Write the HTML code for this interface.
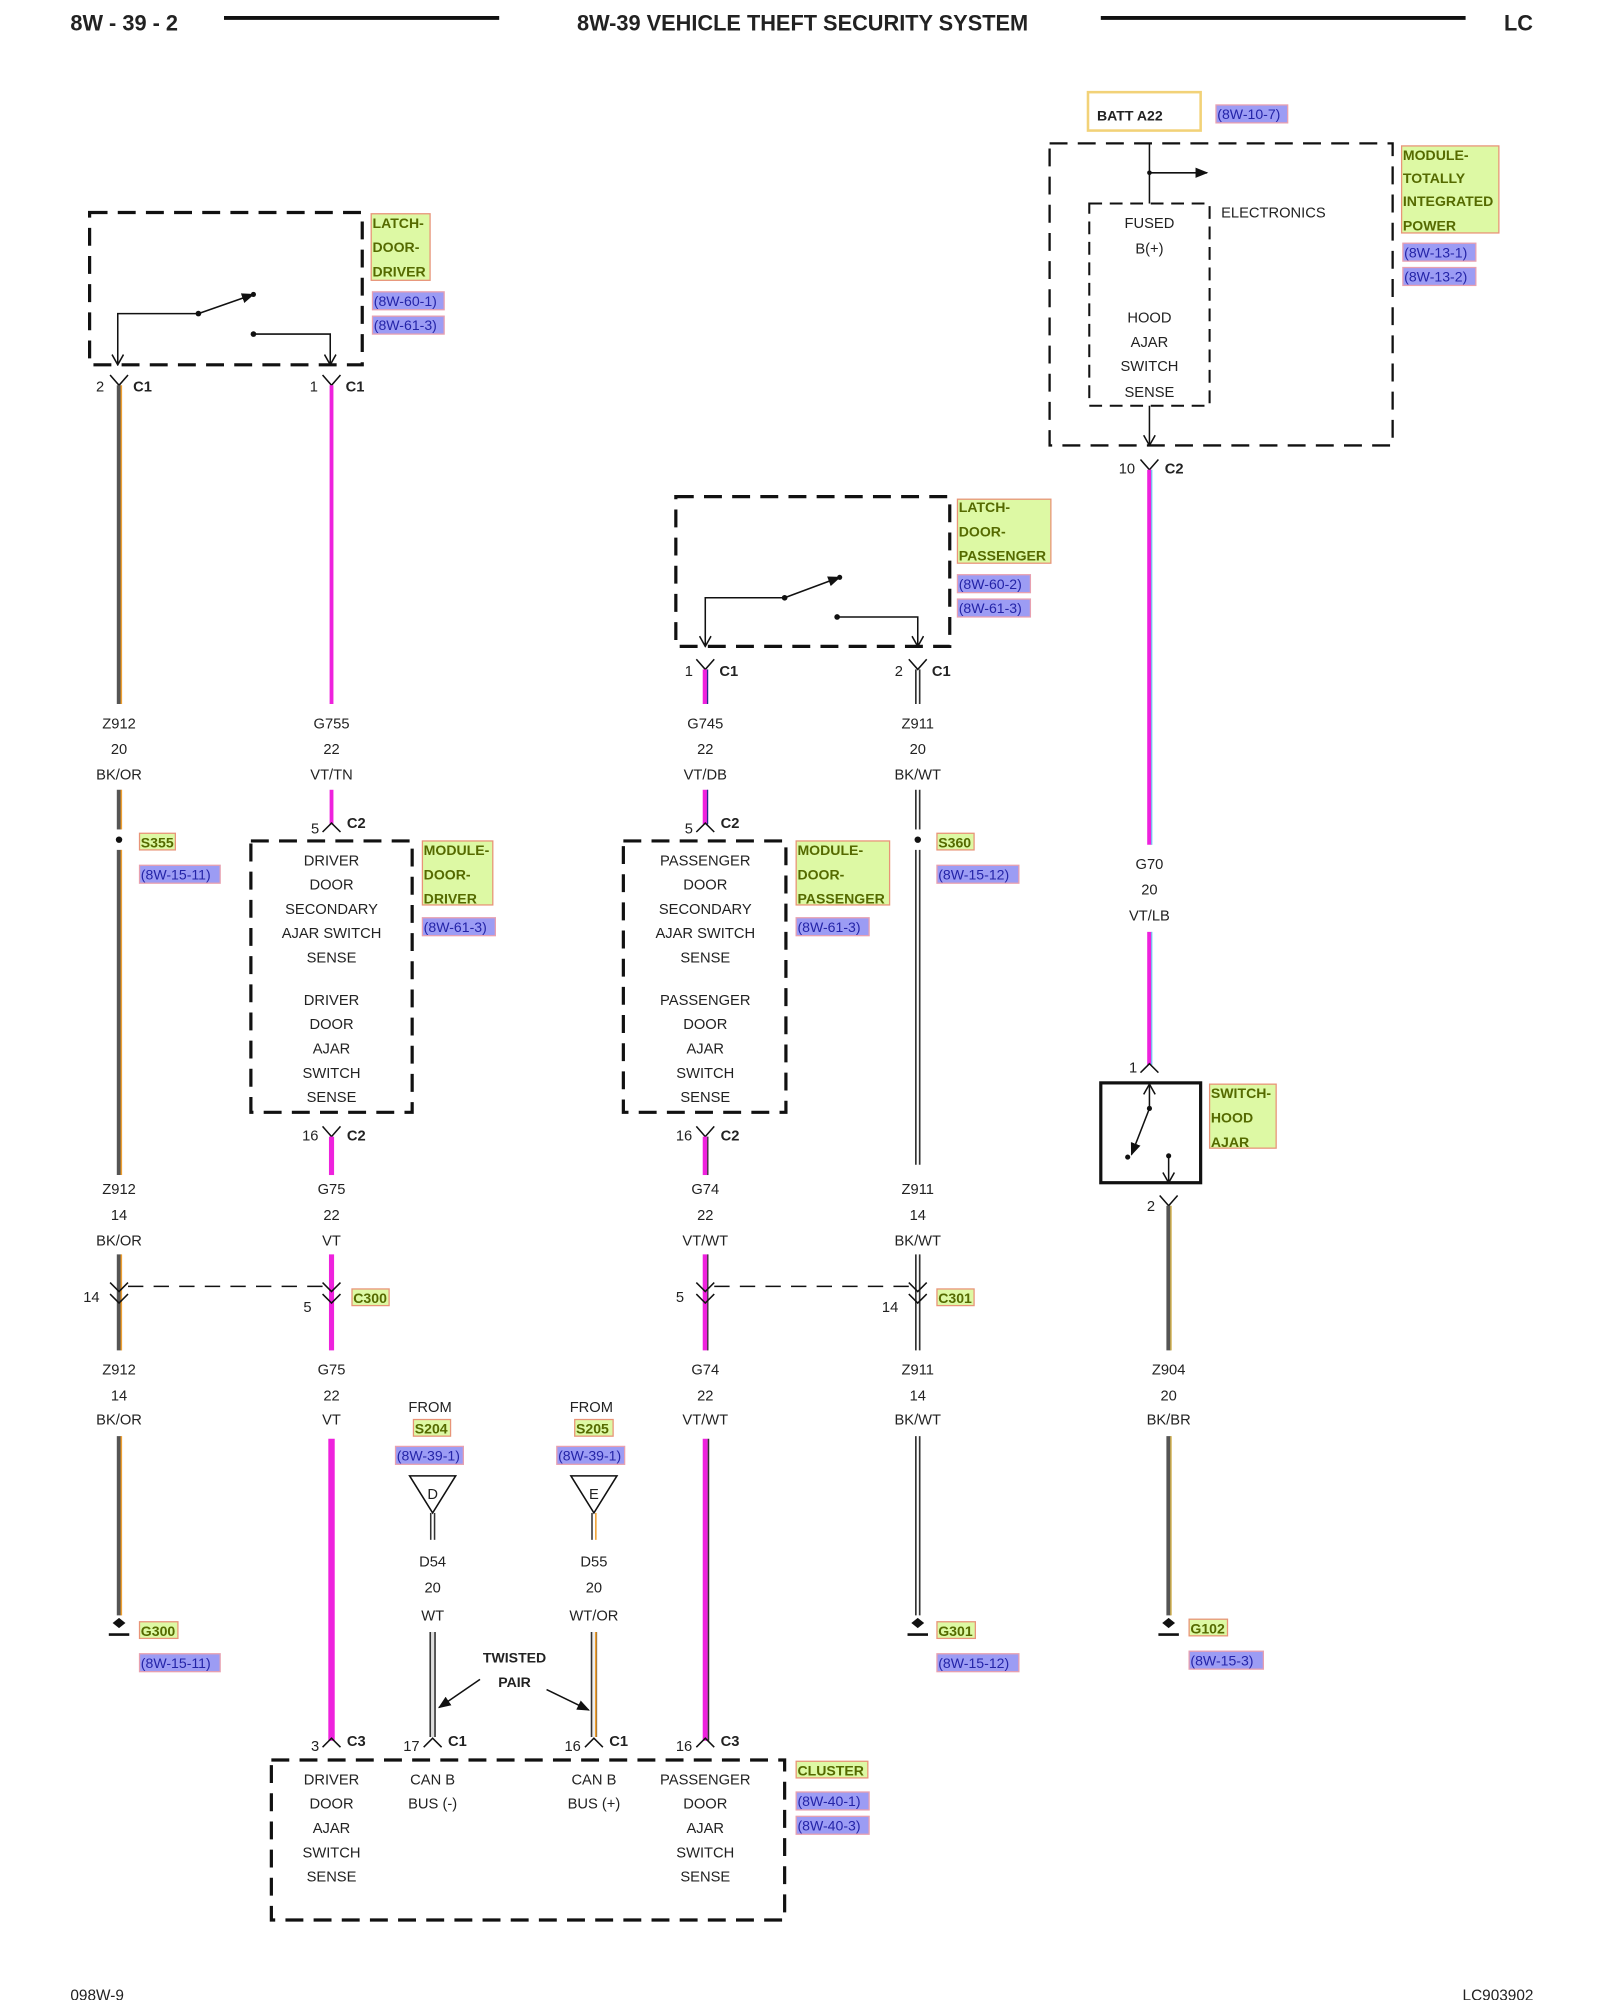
<!DOCTYPE html>
<html><head><meta charset="utf-8"><style>
html,body{margin:0;padding:0;background:#fff}
svg{display:block}
text{font-family:"Liberation Sans",sans-serif;font-size:11.5px;fill:#222}
.c{text-anchor:middle}
.b{font-weight:bold}
.g{font-weight:bold;fill:#556a00;font-size:11px}
.r{fill:#2424a8;font-size:11px}
.gb{fill:#ddf9a4;stroke:#e89478;stroke-width:1}
.rb{fill:#9c9cf4;stroke:#e8a0b0;stroke-width:1}
.d{fill:none;stroke:#111;stroke-width:2.5;stroke-dasharray:14 8}
.dt{fill:none;stroke:#111;stroke-width:1.6;stroke-dasharray:10 6}
.l{fill:none;stroke:#111;stroke-width:1.2}
</style></head><body>
<svg width="1600" height="2000" viewBox="0 0 1250 1562.5" xmlns="http://www.w3.org/2000/svg">
<defs>
<marker id="af" markerWidth="10" markerHeight="10" refX="9" refY="5" orient="auto" markerUnits="userSpaceOnUse"><path d="M0,1 L10,5 L0,9z" fill="#111"/></marker>
<marker id="ao" markerWidth="10" markerHeight="10" refX="9" refY="5" orient="auto" markerUnits="userSpaceOnUse"><path d="M1,0.5 L9,5 L1,9.5" fill="none" stroke="#111" stroke-width="1.2"/></marker>
</defs>
<!-- header -->
<text x="55" y="24" class="b" style="font-size:17px">8W - 39 - 2</text>
<line x1="175" y1="14" x2="390" y2="14" stroke="#111" stroke-width="3"/>
<text x="627" y="24" class="b c" style="font-size:17px">8W-39 VEHICLE THEFT SECURITY SYSTEM</text>
<line x1="860" y1="14" x2="1145" y2="14" stroke="#111" stroke-width="3"/>
<text x="1175" y="24" class="b" style="font-size:17px">LC</text>
<text x="55" y="1563" style="font-size:12px">098W-9</text>
<text x="1198" y="1563" style="font-size:12px;text-anchor:end">LC903902</text>

<!-- driver latch -->
<rect x="70" y="166" width="213" height="119" class="d"/>
<polyline points="155,245 92,245 92,285" class="l" marker-end="url(#ao)"/>
<circle cx="155" cy="245" r="2.2" fill="#111"/>
<line x1="155" y1="245" x2="198" y2="230" class="l" marker-end="url(#af)"/>
<circle cx="198" cy="230" r="2" fill="#111"/>
<circle cx="198" cy="261" r="2.2" fill="#111"/>
<polyline points="198,261 258,261 258,285" class="l" marker-end="url(#ao)"/>
<rect x="290" y="167" width="46" height="52" class="gb"/>
<text x="291" y="178" class="g">LATCH-</text><text x="291" y="197" class="g">DOOR-</text><text x="291" y="216" class="g">DRIVER</text>
<rect x="291" y="228" width="56" height="14" class="rb"/><text x="292" y="239" class="r">(8W-60-1)</text>
<rect x="291" y="247" width="56" height="14" class="rb"/><text x="292" y="258" class="r">(8W-61-3)</text>

<!-- Y connectors top -->
<polyline points="86,293 93,301 100,293" class="l"/><text x="75" y="306">2</text><text x="104" y="306" class="b">C1</text>
<polyline points="252,293 259,301 266,293" class="l"/><text x="242" y="306">1</text><text x="270" y="306" class="b">C1</text>

<!-- col 93 Z912 -->
<g>
<line x1="93" y1="301" x2="93" y2="550" stroke="#555" stroke-width="3.5"/><line x1="94.8" y1="301" x2="94.8" y2="550" stroke="#f0a030" stroke-width="1.2"/>
<line x1="93" y1="617" x2="93" y2="648" stroke="#555" stroke-width="3.5"/><line x1="94.8" y1="617" x2="94.8" y2="648" stroke="#f0a030" stroke-width="1.2"/>
<line x1="93" y1="664" x2="93" y2="918" stroke="#555" stroke-width="3.5"/><line x1="94.8" y1="664" x2="94.8" y2="918" stroke="#f0a030" stroke-width="1.2"/>
<line x1="93" y1="980" x2="93" y2="1055" stroke="#555" stroke-width="3.5"/><line x1="94.8" y1="980" x2="94.8" y2="1055" stroke="#f0a030" stroke-width="1.2"/>
<line x1="93" y1="1122" x2="93" y2="1262" stroke="#555" stroke-width="3.5"/><line x1="94.8" y1="1122" x2="94.8" y2="1262" stroke="#f0a030" stroke-width="1.2"/>
</g>
<text x="93" y="569" class="c">Z912</text><text x="93" y="589" class="c">20</text><text x="93" y="609" class="c">BK/OR</text>
<circle cx="93" cy="656" r="2.5" fill="#111"/>
<rect x="109" y="651" width="28" height="13" class="gb"/><text x="110" y="662" class="g">S355</text>
<rect x="109" y="676" width="63" height="14" class="rb"/><text x="110" y="687" class="r">(8W-15-11)</text>
<text x="93" y="933" class="c">Z912</text><text x="93" y="953" class="c">14</text><text x="93" y="973" class="c">BK/OR</text>
<text x="93" y="1074" class="c">Z912</text><text x="93" y="1094" class="c">14</text><text x="93" y="1113" class="c">BK/OR</text>
<path d="M88,1268 L93,1272 L98,1268 L93,1264z" fill="#111"/><line x1="85" y1="1277" x2="101" y2="1277" stroke="#111" stroke-width="2"/>
<rect x="109" y="1267" width="30" height="13" class="gb"/><text x="110" y="1278" class="g">G300</text>
<rect x="109" y="1292" width="63" height="14" class="rb"/><text x="110" y="1303" class="r">(8W-15-11)</text>

<!-- col 259 -->
<line x1="259" y1="301" x2="259" y2="550" stroke="#ee22dd" stroke-width="3"/>
<text x="259" y="569" class="c">G755</text><text x="259" y="589" class="c">22</text><text x="259" y="609" class="c">VT/TN</text>
<line x1="259" y1="617" x2="259" y2="644" stroke="#ee22dd" stroke-width="3"/>
<polyline points="252,650 259,643 266,650" class="l"/><text x="243" y="651">5</text><text x="271" y="647" class="b">C2</text>
<rect x="196" y="657" width="126" height="212" class="d"/>
<g class="c">
<text x="259" y="676" class="c">DRIVER</text><text x="259" y="695" class="c">DOOR</text><text x="259" y="714" class="c">SECONDARY</text><text x="259" y="733" class="c">AJAR SWITCH</text><text x="259" y="752" class="c">SENSE</text>
<text x="259" y="785" class="c">DRIVER</text><text x="259" y="804" class="c">DOOR</text><text x="259" y="823" class="c">AJAR</text><text x="259" y="842" class="c">SWITCH</text><text x="259" y="861" class="c">SENSE</text>
</g>
<rect x="330" y="657" width="55" height="50" class="gb"/>
<text x="331" y="668" class="g">MODULE-</text><text x="331" y="687" class="g">DOOR-</text><text x="331" y="706" class="g">DRIVER</text>
<rect x="330" y="717" width="57" height="14" class="rb"/><text x="331" y="728" class="r">(8W-61-3)</text>
<polyline points="252,880 259,888 266,880" class="l"/><text x="236" y="891">16</text><text x="271" y="891" class="b">C2</text>
<line x1="259" y1="888" x2="259" y2="918" stroke="#ee22dd" stroke-width="4"/>
<text x="259" y="933" class="c">G75</text><text x="259" y="953" class="c">22</text><text x="259" y="973" class="c">VT</text>
<line x1="259" y1="980" x2="259" y2="1055" stroke="#ee22dd" stroke-width="4"/>
<text x="259" y="1074" class="c">G75</text><text x="259" y="1094" class="c">22</text><text x="259" y="1113" class="c">VT</text>
<line x1="259" y1="1124" x2="259" y2="1360" stroke="#ee22dd" stroke-width="5"/>

<!-- C300 -->
<line x1="100" y1="1005" x2="252" y2="1005" stroke="#111" stroke-width="1.2" stroke-dasharray="12 8"/>
<polyline points="86,1002 93,1009 100,1002" class="l"/><polyline points="86,1011 93,1018 100,1011" class="l"/>
<polyline points="252,1002 259,1009 266,1002" class="l"/><polyline points="252,1011 259,1018 266,1011" class="l"/>
<text x="65" y="1017">14</text><text x="237" y="1025">5</text>
<rect x="275" y="1007" width="29" height="13" class="gb"/><text x="276" y="1018" class="g">C300</text>

<!-- passenger latch -->
<rect x="528" y="388" width="214" height="117" class="d"/>
<polyline points="613,467 551,467 551,505" class="l" marker-end="url(#ao)"/>
<circle cx="613" cy="467" r="2.2" fill="#111"/>
<line x1="613" y1="467" x2="656" y2="451" class="l" marker-end="url(#af)"/>
<circle cx="656" cy="451" r="2" fill="#111"/>
<circle cx="654" cy="482" r="2.2" fill="#111"/>
<polyline points="654,482 717,482 717,505" class="l" marker-end="url(#ao)"/>
<rect x="748" y="390" width="73" height="50" class="gb"/>
<text x="749" y="400" class="g">LATCH-</text><text x="749" y="419" class="g">DOOR-</text><text x="749" y="438" class="g">PASSENGER</text>
<rect x="748" y="449" width="57" height="14" class="rb"/><text x="749" y="460" class="r">(8W-60-2)</text>
<rect x="748" y="468" width="57" height="14" class="rb"/><text x="749" y="479" class="r">(8W-61-3)</text>
<polyline points="544,515 551,523 558,515" class="l"/><text x="535" y="528">1</text><text x="562" y="528" class="b">C1</text>
<polyline points="710,515 717,523 724,515" class="l"/><text x="699" y="528">2</text><text x="728" y="528" class="b">C1</text>

<!-- col 551 -->
<g>
<line x1="551" y1="523" x2="551" y2="550" stroke="#ee22dd" stroke-width="4"/><line x1="552.8" y1="523" x2="552.8" y2="550" stroke="#2a2a90" stroke-width="1"/>
<line x1="551" y1="617" x2="551" y2="644" stroke="#ee22dd" stroke-width="4"/><line x1="552.8" y1="617" x2="552.8" y2="644" stroke="#2a2a90" stroke-width="1"/>
</g>
<text x="551" y="569" class="c">G745</text><text x="551" y="589" class="c">22</text><text x="551" y="609" class="c">VT/DB</text>
<polyline points="544,650 551,643 558,650" class="l"/><text x="535" y="651">5</text><text x="563" y="647" class="b">C2</text>
<rect x="487" y="657" width="127" height="212" class="d"/>
<text x="551" y="676" class="c">PASSENGER</text><text x="551" y="695" class="c">DOOR</text><text x="551" y="714" class="c">SECONDARY</text><text x="551" y="733" class="c">AJAR SWITCH</text><text x="551" y="752" class="c">SENSE</text>
<text x="551" y="785" class="c">PASSENGER</text><text x="551" y="804" class="c">DOOR</text><text x="551" y="823" class="c">AJAR</text><text x="551" y="842" class="c">SWITCH</text><text x="551" y="861" class="c">SENSE</text>
<rect x="622" y="657" width="73" height="50" class="gb"/>
<text x="623" y="668" class="g">MODULE-</text><text x="623" y="687" class="g">DOOR-</text><text x="623" y="706" class="g">PASSENGER</text>
<rect x="622" y="717" width="57" height="14" class="rb"/><text x="623" y="728" class="r">(8W-61-3)</text>
<polyline points="544,880 551,888 558,880" class="l"/><text x="528" y="891">16</text><text x="563" y="891" class="b">C2</text>
<g>
<line x1="551" y1="888" x2="551" y2="918" stroke="#ee22dd" stroke-width="4"/><line x1="553" y1="888" x2="553" y2="918" stroke="#333" stroke-width="1"/>
<line x1="551" y1="980" x2="551" y2="1055" stroke="#ee22dd" stroke-width="4"/><line x1="553" y1="980" x2="553" y2="1055" stroke="#333" stroke-width="1"/>
<line x1="551" y1="1124" x2="551" y2="1360" stroke="#ee22dd" stroke-width="4"/><line x1="553.5" y1="1124" x2="553.5" y2="1360" stroke="#333" stroke-width="1.2"/>
</g>
<text x="551" y="933" class="c">G74</text><text x="551" y="953" class="c">22</text><text x="551" y="973" class="c">VT/WT</text>
<text x="551" y="1074" class="c">G74</text><text x="551" y="1094" class="c">22</text><text x="551" y="1113" class="c">VT/WT</text>

<!-- col 717 -->
<g stroke="#333" stroke-width="1.3">
<line x1="715.5" y1="523" x2="715.5" y2="550"/><line x1="718.5" y1="523" x2="718.5" y2="550"/>
<line x1="715.5" y1="617" x2="715.5" y2="648"/><line x1="718.5" y1="617" x2="718.5" y2="648"/>
<line x1="715.5" y1="664" x2="715.5" y2="910"/><line x1="718.5" y1="664" x2="718.5" y2="910"/>
<line x1="715.5" y1="980" x2="715.5" y2="1055"/><line x1="718.5" y1="980" x2="718.5" y2="1055"/>
<line x1="715.5" y1="1122" x2="715.5" y2="1262"/><line x1="718.5" y1="1122" x2="718.5" y2="1262"/>
</g>
<text x="717" y="569" class="c">Z911</text><text x="717" y="589" class="c">20</text><text x="717" y="609" class="c">BK/WT</text>
<circle cx="717" cy="656" r="2.5" fill="#111"/>
<rect x="732" y="651" width="29" height="13" class="gb"/><text x="733" y="662" class="g">S360</text>
<rect x="732" y="676" width="64" height="14" class="rb"/><text x="733" y="687" class="r">(8W-15-12)</text>
<text x="717" y="933" class="c">Z911</text><text x="717" y="953" class="c">14</text><text x="717" y="973" class="c">BK/WT</text>
<text x="717" y="1074" class="c">Z911</text><text x="717" y="1094" class="c">14</text><text x="717" y="1113" class="c">BK/WT</text>
<path d="M712,1268 L717,1272 L722,1268 L717,1264z" fill="#111"/><line x1="709" y1="1277" x2="725" y2="1277" stroke="#111" stroke-width="2"/>
<rect x="732" y="1267" width="30" height="13" class="gb"/><text x="733" y="1278" class="g">G301</text>
<rect x="732" y="1292" width="64" height="14" class="rb"/><text x="733" y="1303" class="r">(8W-15-12)</text>

<!-- C301 -->
<line x1="558" y1="1005" x2="710" y2="1005" stroke="#111" stroke-width="1.2" stroke-dasharray="12 8"/>
<polyline points="544,1002 551,1009 558,1002" class="l"/><polyline points="544,1011 551,1018 558,1011" class="l"/>
<polyline points="710,1002 717,1009 724,1002" class="l"/><polyline points="710,1011 717,1018 724,1011" class="l"/>
<text x="528" y="1017">5</text><text x="689" y="1025">14</text>
<rect x="732" y="1007" width="29" height="13" class="gb"/><text x="733" y="1018" class="g">C301</text>

<!-- TIPM -->
<rect x="850" y="72" width="88" height="30" fill="none" stroke="#f2d278" stroke-width="2"/>
<text x="857" y="94" class="b" style="font-size:11px">BATT A22</text>
<rect x="950" y="82" width="56" height="14" class="rb"/><text x="951" y="93" class="r">(8W-10-7)</text>
<rect x="820" y="112" width="268" height="236" class="d" style="stroke-width:1.8"/>
<polyline points="898,112 898,159" class="l"/>
<line x1="898" y1="135" x2="943" y2="135" class="l" marker-end="url(#af)"/>
<circle cx="898" cy="135" r="1.8" fill="#111"/>
<rect x="851" y="159" width="94" height="158" class="dt"/>
<text x="954" y="170">ELECTRONICS</text>
<text x="898" y="178" class="c">FUSED</text><text x="898" y="198" class="c">B(+)</text>
<text x="898" y="252" class="c">HOOD</text><text x="898" y="271" class="c">AJAR</text><text x="898" y="290" class="c">SWITCH</text><text x="898" y="310" class="c">SENSE</text>
<line x1="898" y1="317" x2="898" y2="348" class="l" marker-end="url(#ao)"/>
<rect x="1095" y="114" width="76" height="68" class="gb"/>
<text x="1096" y="125" class="g">MODULE-</text><text x="1096" y="143" class="g">TOTALLY</text><text x="1096" y="161" class="g">INTEGRATED</text><text x="1096" y="180" class="g">POWER</text>
<rect x="1096" y="190" width="57" height="14" class="rb"/><text x="1097" y="201" class="r">(8W-13-1)</text>
<rect x="1096" y="209" width="57" height="14" class="rb"/><text x="1097" y="220" class="r">(8W-13-2)</text>
<polyline points="891,359 898,367 905,359" class="l"/><text x="874" y="370">10</text><text x="910" y="370" class="b">C2</text>
<g>
<line x1="898" y1="367" x2="898" y2="660" stroke="#ee22dd" stroke-width="3.5"/><line x1="899.8" y1="367" x2="899.8" y2="660" stroke="#70c8f0" stroke-width="1"/>
<line x1="898" y1="728" x2="898" y2="832" stroke="#ee22dd" stroke-width="3.5"/><line x1="899.8" y1="728" x2="899.8" y2="832" stroke="#70c8f0" stroke-width="1"/>
</g>
<text x="898" y="679" class="c">G70</text><text x="898" y="699" class="c">20</text><text x="898" y="719" class="c">VT/LB</text>
<polyline points="891,838 898,831 905,838" class="l"/><text x="882" y="838">1</text>
<rect x="860" y="846" width="78" height="78" fill="none" stroke="#111" stroke-width="2.5"/>
<line x1="898" y1="866" x2="898" y2="847" class="l" marker-end="url(#ao)"/>
<circle cx="898" cy="866" r="2" fill="#111"/>
<line x1="898" y1="866" x2="884" y2="902" class="l" marker-end="url(#af)"/>
<circle cx="881" cy="904" r="2" fill="#111"/>
<circle cx="913" cy="903" r="2" fill="#111"/>
<line x1="913" y1="903" x2="913" y2="924" class="l" marker-end="url(#ao)"/>
<rect x="945" y="847" width="52" height="50" class="gb"/>
<text x="946" y="858" class="g">SWITCH-</text><text x="946" y="877" class="g">HOOD</text><text x="946" y="896" class="g">AJAR</text>
<polyline points="906,934 913,942 920,934" class="l"/><text x="896" y="946">2</text>
<g>
<line x1="913" y1="942" x2="913" y2="1055" stroke="#555" stroke-width="3.5"/><line x1="914.8" y1="942" x2="914.8" y2="1055" stroke="#d0b050" stroke-width="1.2"/>
<line x1="913" y1="1122" x2="913" y2="1262" stroke="#555" stroke-width="3.5"/><line x1="914.8" y1="1122" x2="914.8" y2="1262" stroke="#d0b050" stroke-width="1.2"/>
</g>
<text x="913" y="1074" class="c">Z904</text><text x="913" y="1094" class="c">20</text><text x="913" y="1113" class="c">BK/BR</text>
<path d="M908,1268 L913,1272 L918,1268 L913,1264z" fill="#111"/><line x1="905" y1="1277" x2="921" y2="1277" stroke="#111" stroke-width="2"/>
<rect x="929" y="1265" width="30" height="13" class="gb"/><text x="930" y="1276" class="g">G102</text>
<rect x="929" y="1290" width="58" height="14" class="rb"/><text x="930" y="1301" class="r">(8W-15-3)</text>

<!-- D / E -->
<text x="336" y="1103" class="c">FROM</text>
<rect x="323" y="1109" width="29" height="13" class="gb"/><text x="324" y="1120" class="g">S204</text>
<rect x="309" y="1130" width="53" height="14" class="rb"/><text x="310" y="1141" class="r">(8W-39-1)</text>
<path d="M320,1153 L356,1153 L338,1182z" fill="#fff" stroke="#111" stroke-width="1.2"/>
<text x="338" y="1171" class="c">D</text>
<line x1="336.5" y1="1182" x2="336.5" y2="1203" stroke="#333" stroke-width="1.2"/><line x1="339.5" y1="1182" x2="339.5" y2="1203" stroke="#333" stroke-width="1.2"/>
<text x="338" y="1224" class="c">D54</text><text x="338" y="1244" class="c">20</text><text x="338" y="1266" class="c">WT</text>
<line x1="338" y1="1275" x2="338" y2="1357" stroke="#333" stroke-width="5"/><line x1="338" y1="1275" x2="338" y2="1357" stroke="#ddd" stroke-width="2.5"/>

<text x="462" y="1103" class="c">FROM</text>
<rect x="449" y="1109" width="30" height="13" class="gb"/><text x="450" y="1120" class="g">S205</text>
<rect x="435" y="1130" width="53" height="14" class="rb"/><text x="436" y="1141" class="r">(8W-39-1)</text>
<path d="M446,1153 L482,1153 L464,1182z" fill="#fff" stroke="#111" stroke-width="1.2"/>
<text x="464" y="1171" class="c">E</text>
<line x1="462.5" y1="1182" x2="462.5" y2="1203" stroke="#333" stroke-width="1.2"/><line x1="465.5" y1="1182" x2="465.5" y2="1203" stroke="#f0a030" stroke-width="1.2"/>
<text x="464" y="1224" class="c">D55</text><text x="464" y="1244" class="c">20</text><text x="464" y="1266" class="c">WT/OR</text>
<line x1="464" y1="1275" x2="464" y2="1357" stroke="#333" stroke-width="5"/><line x1="464" y1="1275" x2="464" y2="1357" stroke="#eee" stroke-width="2.5"/><line x1="465.5" y1="1275" x2="465.5" y2="1357" stroke="#f0a030" stroke-width="1.3"/>

<text x="402" y="1299" class="b c" style="font-size:11px">TWISTED</text>
<text x="402" y="1318" class="b c" style="font-size:11px">PAIR</text>
<line x1="375" y1="1312" x2="343" y2="1334" class="l" marker-end="url(#af)"/>
<line x1="427" y1="1320" x2="460" y2="1336" class="l" marker-end="url(#af)"/>

<!-- cluster -->
<polyline points="252,1365 259,1358 266,1365" class="l"/><text x="243" y="1368">3</text><text x="271" y="1364" class="b">C3</text>
<polyline points="331,1365 338,1358 345,1365" class="l"/><text x="315" y="1368">17</text><text x="350" y="1364" class="b">C1</text>
<polyline points="457,1365 464,1358 471,1365" class="l"/><text x="441" y="1368">16</text><text x="476" y="1364" class="b">C1</text>
<polyline points="544,1365 551,1358 558,1365" class="l"/><text x="528" y="1368">16</text><text x="563" y="1364" class="b">C3</text>
<rect x="212" y="1375" width="401" height="125" class="d"/>
<text x="259" y="1394" class="c">DRIVER</text><text x="259" y="1413" class="c">DOOR</text><text x="259" y="1432" class="c">AJAR</text><text x="259" y="1451" class="c">SWITCH</text><text x="259" y="1470" class="c">SENSE</text>
<text x="338" y="1394" class="c">CAN B</text><text x="338" y="1413" class="c">BUS (-)</text>
<text x="464" y="1394" class="c">CAN B</text><text x="464" y="1413" class="c">BUS (+)</text>
<text x="551" y="1394" class="c">PASSENGER</text><text x="551" y="1413" class="c">DOOR</text><text x="551" y="1432" class="c">AJAR</text><text x="551" y="1451" class="c">SWITCH</text><text x="551" y="1470" class="c">SENSE</text>
<rect x="622" y="1376" width="56" height="13" class="gb"/><text x="623" y="1387" class="g">CLUSTER</text>
<rect x="622" y="1400" width="57" height="14" class="rb"/><text x="623" y="1411" class="r">(8W-40-1)</text>
<rect x="622" y="1419" width="57" height="14" class="rb"/><text x="623" y="1430" class="r">(8W-40-3)</text>
</svg>
</body></html>
